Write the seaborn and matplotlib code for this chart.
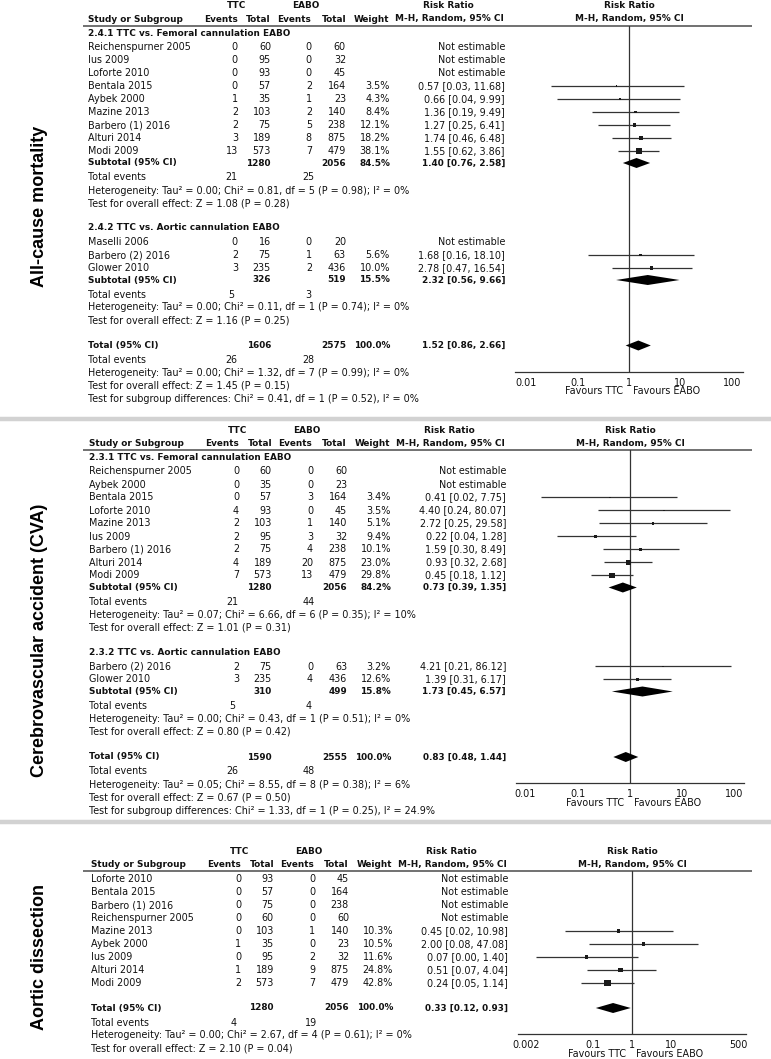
import numpy as np
import pandas as pd
import matplotlib
matplotlib.use("Agg")
import matplotlib.pyplot as plt
from matplotlib.ticker import NullLocator
import seaborn as sns

#! ######################### data ###############################################
# row = (study, TTC events, TTC total, EABO events, EABO total, weight %, RR, CI low, CI high)

# --- All-cause mortality
ACM_FEMORAL = [
    ("Reichenspurner 2005", 0, 60, 0, 60, None, None, None, None),
    ("Ius 2009", 0, 95, 0, 32, None, None, None, None),
    ("Loforte 2010", 0, 93, 0, 45, None, None, None, None),
    ("Bentala 2015", 0, 57, 2, 164, 3.5, 0.57, 0.03, 11.68),
    ("Aybek 2000", 1, 35, 1, 23, 4.3, 0.66, 0.04, 9.99),
    ("Mazine 2013", 2, 103, 2, 140, 8.4, 1.36, 0.19, 9.49),
    ("Barbero (1) 2016", 2, 75, 5, 238, 12.1, 1.27, 0.25, 6.41),
    ("Alturi 2014", 3, 189, 8, 875, 18.2, 1.74, 0.46, 6.48),
    ("Modi 2009", 13, 573, 7, 479, 38.1, 1.55, 0.62, 3.86),
]
# (TTC total, EABO total, weight, RR, low, high, TTC events, EABO events)
ACM_FEMORAL_SUB = (1280, 2056, 84.5, 1.40, 0.76, 2.58, 21, 25)
ACM_FEMORAL_STATS = ["Heterogeneity: Tau² = 0.00; Chi² = 0.81, df = 5 (P = 0.98); I² = 0%",
                     "Test for overall effect: Z = 1.08 (P = 0.28)"]

ACM_AORTIC = [
    ("Maselli 2006", 0, 16, 0, 20, None, None, None, None),
    ("Barbero (2) 2016", 2, 75, 1, 63, 5.6, 1.68, 0.16, 18.10),
    ("Glower 2010", 3, 235, 2, 436, 10.0, 2.78, 0.47, 16.54),
]
ACM_AORTIC_SUB = (326, 519, 15.5, 2.32, 0.56, 9.66, 5, 3)
ACM_AORTIC_STATS = ["Heterogeneity: Tau² = 0.00; Chi² = 0.11, df = 1 (P = 0.74); I² = 0%",
                    "Test for overall effect: Z = 1.16 (P = 0.25)"]

ACM_TOTAL = (1606, 2575, 100.0, 1.52, 0.86, 2.66, 26, 28)
ACM_TOTAL_STATS = ["Heterogeneity: Tau² = 0.00; Chi² = 1.32, df = 7 (P = 0.99); I² = 0%",
                   "Test for overall effect: Z = 1.45 (P = 0.15)",
                   "Test for subgroup differences: Chi² = 0.41, df = 1 (P = 0.52), I² = 0%"]

# --- Cerebrovascular accident
CVA_FEMORAL = [
    ("Reichenspurner 2005", 0, 60, 0, 60, None, None, None, None),
    ("Aybek 2000", 0, 35, 0, 23, None, None, None, None),
    ("Bentala 2015", 0, 57, 3, 164, 3.4, 0.41, 0.02, 7.75),
    ("Loforte 2010", 4, 93, 0, 45, 3.5, 4.40, 0.24, 80.07),
    ("Mazine 2013", 2, 103, 1, 140, 5.1, 2.72, 0.25, 29.58),
    ("Ius 2009", 2, 95, 3, 32, 9.4, 0.22, 0.04, 1.28),
    ("Barbero (1) 2016", 2, 75, 4, 238, 10.1, 1.59, 0.30, 8.49),
    ("Alturi 2014", 4, 189, 20, 875, 23.0, 0.93, 0.32, 2.68),
    ("Modi 2009", 7, 573, 13, 479, 29.8, 0.45, 0.18, 1.12),
]
CVA_FEMORAL_SUB = (1280, 2056, 84.2, 0.73, 0.39, 1.35, 21, 44)
CVA_FEMORAL_STATS = ["Heterogeneity: Tau² = 0.07; Chi² = 6.66, df = 6 (P = 0.35); I² = 10%",
                     "Test for overall effect: Z = 1.01 (P = 0.31)"]

CVA_AORTIC = [
    ("Barbero (2) 2016", 2, 75, 0, 63, 3.2, 4.21, 0.21, 86.12),
    ("Glower 2010", 3, 235, 4, 436, 12.6, 1.39, 0.31, 6.17),
]
CVA_AORTIC_SUB = (310, 499, 15.8, 1.73, 0.45, 6.57, 5, 4)
CVA_AORTIC_STATS = ["Heterogeneity: Tau² = 0.00; Chi² = 0.43, df = 1 (P = 0.51); I² = 0%",
                    "Test for overall effect: Z = 0.80 (P = 0.42)"]

CVA_TOTAL = (1590, 2555, 100.0, 0.83, 0.48, 1.44, 26, 48)
CVA_TOTAL_STATS = ["Heterogeneity: Tau² = 0.05; Chi² = 8.55, df = 8 (P = 0.38); I² = 6%",
                   "Test for overall effect: Z = 0.67 (P = 0.50)",
                   "Test for subgroup differences: Chi² = 1.33, df = 1 (P = 0.25), I² = 24.9%"]

# --- Aortic dissection (no subgroups); Ius lower CI prints as 0.00
AD_STUDIES = [
    ("Loforte 2010", 0, 93, 0, 45, None, None, None, None),
    ("Bentala 2015", 0, 57, 0, 164, None, None, None, None),
    ("Barbero (1) 2016", 0, 75, 0, 238, None, None, None, None),
    ("Reichenspurner 2005", 0, 60, 0, 60, None, None, None, None),
    ("Mazine 2013", 0, 103, 1, 140, 10.3, 0.45, 0.02, 10.98),
    ("Aybek 2000", 1, 35, 0, 23, 10.5, 2.00, 0.08, 47.08),
    ("Ius 2009", 0, 95, 2, 32, 11.6, 0.07, 0.0037, 1.40),
    ("Alturi 2014", 1, 189, 9, 875, 24.8, 0.51, 0.07, 4.04),
    ("Modi 2009", 2, 573, 7, 479, 42.8, 0.24, 0.05, 1.14),
]
AD_TOTAL = (1280, 2056, 100.0, 0.33, 0.12, 0.93, 4, 19)
AD_TOTAL_STATS = ["Heterogeneity: Tau² = 0.00; Chi² = 2.67, df = 4 (P = 0.61); I² = 0%",
                  "Test for overall effect: Z = 2.10 (P = 0.04)"]

ACM_TICKS = [0.01, 0.1, 1, 10, 100]
CVA_TICKS = [0.01, 0.1, 1, 10, 100]
AD_TICKS = [0.002, 0.1, 1, 10, 500]

#! ######################### layout #########################
W, H = 771, 1059
FS, FS_B = 6.9, 6.4
INK = "#111111"
LINE = "#333333"

sns.set_theme(style="white")
plt.rcParams["font.family"] = ["DejaVu Sans"]

fig = plt.figure(figsize=(W / 100, H / 100), dpi=100)
bg = fig.add_axes([0, 0, 1, 1])
bg.set_xlim(0, W)
bg.set_ylim(H, 0)
bg.axis("off")


def txt(x, y, s, ha="left", bold=False):
    bg.text(x, y, s, ha=ha, va="center", color=INK,
            fontsize=FS_B if bold else FS, fontweight="bold" if bold else "normal")


def fmt_rr(rr, lo, hi):
    return f"{rr:.2f} [{lo:.2f}, {hi:.2f}]"


def summary_row(y, dx, label, summ, diamonds):
    n1, n2, w, rr, lo, hi, _, _ = summ
    txt(88 + dx, y, label, bold=True)
    txt(271 + dx, y, str(n1), "right", True)
    txt(346 + dx, y, str(n2), "right", True)
    txt(390 + dx, y, f"{w:.1f}%", "right", True)
    txt(505 + dx, y, fmt_rr(rr, lo, hi), "right", True)
    diamonds.append((rr, lo, hi, y))


def events_rows(y, dx, summ, stats):
    txt(88 + dx, y, "Total events")
    txt(231 + dx, y, str(summ[6]), "center")
    txt(308 + dx, y, str(summ[7]), "center")
    for s in stats:
        y += 13
        txt(88 + dx, y, s)
    return y


def draw_panel(label, label_y, line_y, dx, groups, total, total_stats, ticks, span):
    # column headers
    h1, h2 = line_y - 19.5, line_y - 6.5
    xc = 629 + dx
    txt(237 + dx, h1, "TTC", "center", True)
    txt(306 + dx, h1, "EABO", "center", True)
    txt(448 + dx, h1, "Risk Ratio", "center", True)
    txt(xc, h1, "Risk Ratio", "center", True)
    txt(88 + dx, h2, "Study or Subgroup", bold=True)
    for x, s in zip([238, 271, 311, 346, 389], ["Events", "Total", "Events", "Total", "Weight"]):
        txt(x + dx, h2, s, "right", True)
    txt(449 + dx, h2, "M-H, Random, 95% CI", "center", True)
    txt(xc, h2, "M-H, Random, 95% CI", "center", True)
    bg.plot([83, 752], [line_y, line_y], color="#666666", lw=1.3, solid_capstyle="butt")

    rows, diamonds = [], []
    y = line_y
    for gi, (title, studies, sub, stats) in enumerate(groups):
        if title:
            y += 7.5 if gi == 0 else 24.5
            txt(88 + dx, y, title, bold=True)
            y += 14
        else:
            y += 8
        for k, (name, te, tt, ee, et, w, rr, lo, hi) in enumerate(studies):
            if k:
                y += 13
            txt(88 + dx, y, name)
            txt(238 + dx, y, str(te), "right")
            txt(271 + dx, y, str(tt), "right")
            txt(312 + dx, y, str(ee), "right")
            txt(346 + dx, y, str(et), "right")
            if w is None:
                txt(505 + dx, y, "Not estimable", "right")
            else:
                txt(390 + dx, y, f"{w:.1f}%", "right")
                txt(505 + dx, y, fmt_rr(rr, lo, hi), "right")
                rows.append(dict(y=y, rr=rr, lo=lo, hi=hi, weight=w))
        if sub is not None:
            y += 12
            summary_row(y, dx, "Subtotal (95% CI)", sub, diamonds)
            y += 14.5
            y = events_rows(y, dx, sub, stats)

    y += 25
    summary_row(y, dx, "Total (95% CI)", total, diamonds)
    axis_y = y + 26
    y += 14.5
    events_rows(y, dx, total, total_stats)

    # forest plot axes, y in the same pixel units as the text
    x0, x1 = 515 + dx, 743 + dx
    ax = fig.add_axes([x0 / W, 1 - axis_y / H, (x1 - x0) / W, (axis_y - line_y) / H])
    ax.patch.set_visible(False)
    ax.set_xscale("log")
    ax.set_xlim(10 ** -span, 10 ** span)
    ax.set_ylim(axis_y, line_y)
    df = pd.DataFrame(rows)
    ax.hlines(df["y"], df["lo"], df["hi"], color=LINE, lw=0.9)
    sns.scatterplot(data=df, x="rr", y="y", size="weight", ax=ax,
                    sizes=(0.5 * df["weight"].min(), 0.5 * df["weight"].max()),
                    size_norm=(df["weight"].min(), df["weight"].max()),
                    marker="s", color="#1a1a1a", linewidth=0, legend=False, zorder=3)
    for rr, lo, hi, yy in diamonds:
        ax.fill([lo, rr, hi, rr], [yy, yy - 5, yy, yy + 5], color="black", lw=0, zorder=3)
    ax.axvline(1, color=LINE, lw=0.9, zorder=1)

    for side in ["top", "left", "right"]:
        ax.spines[side].set_visible(False)
    ax.spines["bottom"].set_color(LINE)
    ax.spines["bottom"].set_linewidth(0.9)
    ax.set_xticks(ticks)
    ax.set_xticklabels([f"{t:g}" for t in ticks])
    ax.xaxis.set_minor_locator(NullLocator())
    ax.set_yticks([])
    ax.tick_params(axis="x", direction="inout", length=7, width=0.8, color=LINE,
                   labelsize=FS, labelcolor=INK, pad=1)
    ax.set_xlabel("")
    ax.set_ylabel("")
    fav_y = axis_y + 20
    ax.annotate("Favours TTC", xy=(1, fav_y), xytext=(-4, 0), textcoords="offset points",
                ha="right", va="center", fontsize=FS, color=INK, annotation_clip=False)
    ax.annotate("Favours EABO", xy=(1, fav_y), xytext=(3, 0), textcoords="offset points",
                ha="left", va="center", fontsize=FS, color=INK, annotation_clip=False)

    bg.text(40, label_y, label, rotation=90, ha="center", va="center", color="black",
            fontsize=13, fontweight="bold", family=["Liberation Sans", "DejaVu Sans"])


draw_panel("All-cause mortality", 206, 25.5, 0,
           [("2.4.1 TTC vs. Femoral cannulation EABO", ACM_FEMORAL, ACM_FEMORAL_SUB, ACM_FEMORAL_STATS),
            ("2.4.2 TTC vs. Aortic cannulation EABO", ACM_AORTIC, ACM_AORTIC_SUB, ACM_AORTIC_STATS)],
           ACM_TOTAL, ACM_TOTAL_STATS, ACM_TICKS, 2.22)
draw_panel("Cerebrovascular accident (CVA)", 640, 450, 1,
           [("2.3.1 TTC vs. Femoral cannulation EABO", CVA_FEMORAL, CVA_FEMORAL_SUB, CVA_FEMORAL_STATS),
            ("2.3.2 TTC vs. Aortic cannulation EABO", CVA_AORTIC, CVA_AORTIC_SUB, CVA_AORTIC_STATS)],
           CVA_TOTAL, CVA_TOTAL_STATS, CVA_TICKS, 2.18)
draw_panel("Aortic dissection", 957, 871, 3,
           [(None, AD_STUDIES, None, None)],
           AD_TOTAL, AD_TOTAL_STATS, AD_TICKS, 2.9)

# grey separators between the three outcomes
for sy in [419, 822]:
    bg.plot([0, W], [sy, sy], color="#d2d2d2", lw=3.2, solid_capstyle="butt")

fig.savefig("out.png", dpi=100)
